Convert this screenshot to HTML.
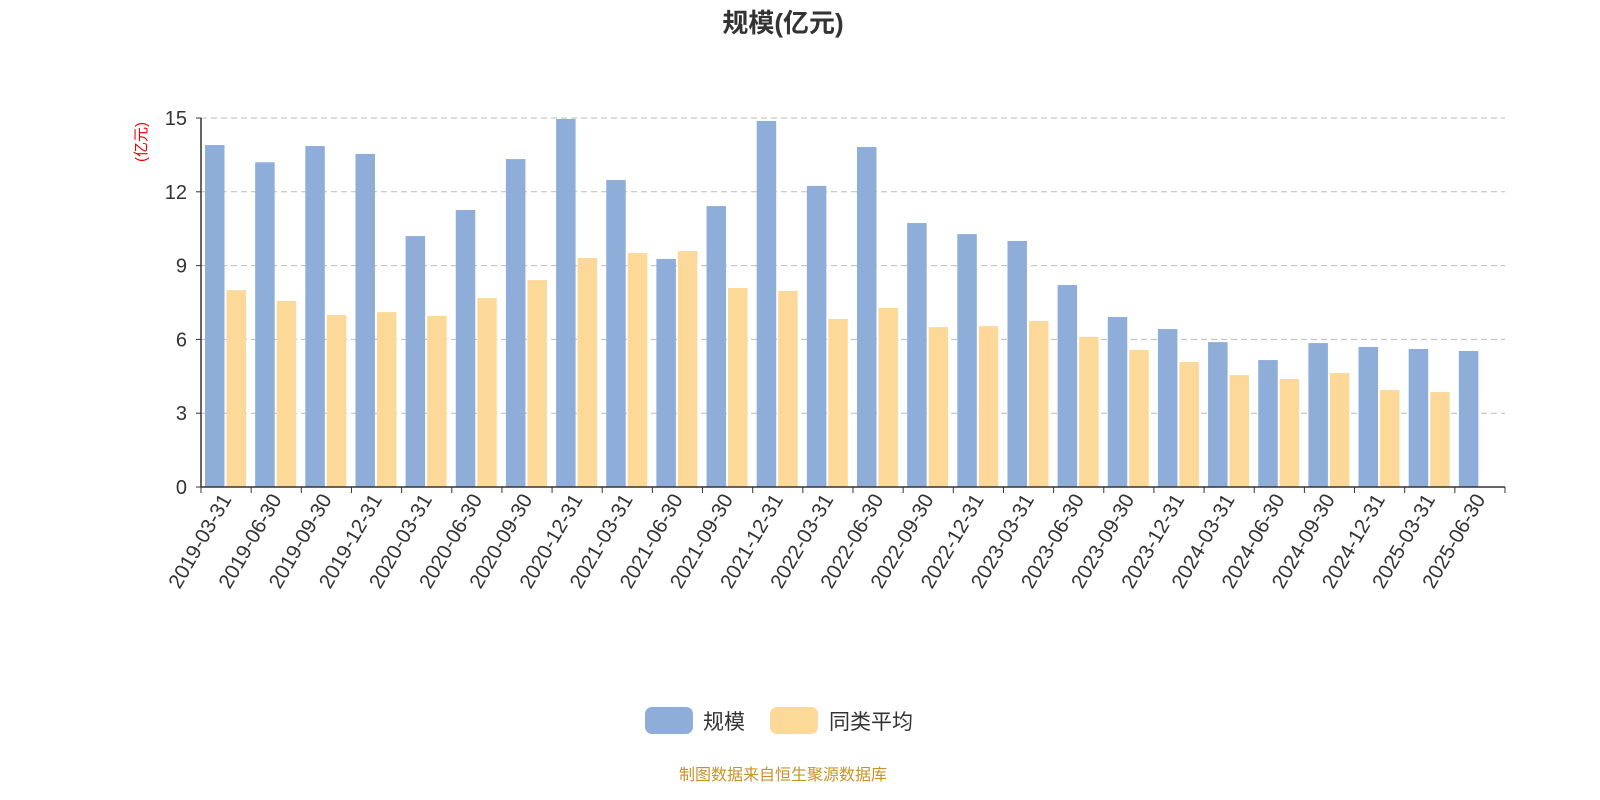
<!DOCTYPE html>
<html><head><meta charset="utf-8"><style>
html,body{margin:0;padding:0;background:#fff;overflow:hidden;width:1600px;height:800px;}
svg{display:block;}
svg text{font-family:"Liberation Sans","Noto Sans CJK SC",sans-serif;}
</style></head><body>
<svg id="c" width="1600" height="800">
<text x="783" y="32" text-anchor="middle" font-size="26" font-weight="bold" fill="#333">规模(亿元)</text>
<text transform="translate(146,142) rotate(-90)" text-anchor="middle" font-size="15" fill="#e00">(亿元)</text>
<g id="grid"></g><g id="bars"></g><g id="axes"></g>
<g>
<rect x="645" y="707" width="48" height="27" rx="7" fill="#8eadd9"/>
<text x="703" y="729" font-size="21" fill="#333">规模</text>
<rect x="770" y="707" width="48" height="27" rx="7" fill="#fdd999"/>
<text x="829" y="729" font-size="21" fill="#333">同类平均</text>
</g>
<text x="783" y="780" text-anchor="middle" font-size="16" fill="#c8922a">制图数据来自恒生聚源数据库</text>
</svg>
<script>
const categories=["2019-03-31","2019-06-30","2019-09-30","2019-12-31","2020-03-31","2020-06-30","2020-09-30","2020-12-31","2021-03-31","2021-06-30","2021-09-30","2021-12-31","2022-03-31","2022-06-30","2022-09-30","2022-12-31","2023-03-31","2023-06-30","2023-09-30","2023-12-31","2024-03-31","2024-06-30","2024-09-30","2024-12-31","2025-03-31","2025-06-30"];
const scaleValues=[13.9,13.2,13.86,13.54,10.2,11.26,13.33,14.96,12.48,9.27,11.42,14.88,12.24,13.82,10.73,10.28,10.0,8.21,6.91,6.42,5.89,5.16,5.85,5.69,5.61,5.53];
const avgValues=[8.0,7.56,6.99,7.11,6.95,7.68,8.41,9.31,9.51,9.59,8.09,7.97,6.83,7.28,6.5,6.54,6.75,6.1,5.57,5.08,4.55,4.39,4.63,3.94,3.86,null];
const yTicks=[0,3,6,9,12,15];
const NS="http://www.w3.org/2000/svg";
const x0=201,x1=1505,y0=487,yTop=118,yMax=15;
const bw=(x1-x0)/categories.length;
function yS(v){return y0-(v/yMax)*(y0-yTop);}
function xS(i){return x0+i*bw;}
function mk(t,a,p){const e=document.createElementNS(NS,t);for(const k in a)e.setAttribute(k,a[k]);p.appendChild(e);return e;}
const grid=document.getElementById('grid'),bars=document.getElementById('bars'),axes=document.getElementById('axes');
yTicks.forEach(v=>{
  if(v>0){const l=mk('line',{x1:x0,x2:x1,y1:yS(v),y2:yS(v),stroke:'#bbb','stroke-dasharray':'6,4'},grid);
  
  }
  const t=mk('text',{x:187,y:yS(v)+7,'text-anchor':'end','font-size':20,fill:'#333'},axes);t.textContent=v;
  
  
  mk('line',{x1:x0-5,x2:x0,y1:yS(v),y2:yS(v),stroke:'#333'},axes);
});
categories.forEach((c,i)=>{
  const b=mk('rect',{x:xS(i)+4,y:yS(scaleValues[i]),width:19.5,height:y0-yS(scaleValues[i]),fill:'#8eadd9'},bars);
  
  
  if(avgValues[i]!=null){const o=mk('rect',{x:xS(i)+25.5,y:yS(avgValues[i]),width:19.5,height:y0-yS(avgValues[i]),fill:'#fdd999'},bars);
  
  }
  const cx=xS(i)+bw/2;
  const t=mk('text',{transform:`translate(${cx+6},${y0+12}) rotate(-60)`,'text-anchor':'end','font-size':20.5,fill:'#333'},axes);t.textContent=c;
  
  
});
for(let i=0;i<=categories.length;i++)mk('line',{x1:xS(i),x2:xS(i),y1:y0,y2:y0+6,stroke:'#333'},axes);
const ax=mk('line',{x1:x0,x2:x1,y1:y0,y2:y0,stroke:'#333','stroke-width':1.5},axes);


const ay=mk('line',{x1:x0,x2:x0,y1:yTop,y2:y0,stroke:'#333','stroke-width':1.5},axes);


</script>
</body></html>
